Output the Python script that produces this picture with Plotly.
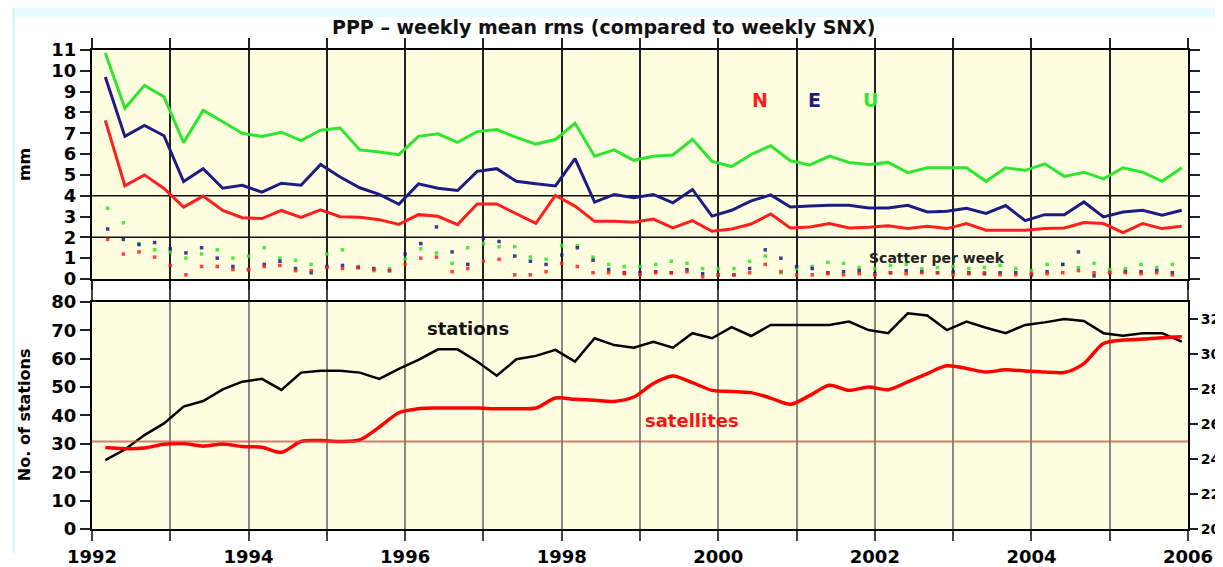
import plotly.graph_objects as go
from plotly.subplots import make_subplots

# quarterly sample positions (decimal years)
quarters = [
    1992.17, 1992.42, 1992.67, 1992.92, 1993.17, 1993.42, 1993.67, 1993.92,
    1994.17, 1994.42, 1994.67, 1994.92, 1995.17, 1995.42, 1995.67, 1995.92,
    1996.17, 1996.42, 1996.67, 1996.92, 1997.17, 1997.42, 1997.67, 1997.92,
    1998.17, 1998.42, 1998.67, 1998.92, 1999.17, 1999.42, 1999.67, 1999.92,
    2000.17, 2000.42, 2000.67, 2000.92, 2001.17, 2001.42, 2001.67, 2001.92,
    2002.17, 2002.42, 2002.67, 2002.92, 2003.17, 2003.42, 2003.67, 2003.92,
    2004.17, 2004.42, 2004.67, 2004.92, 2005.17, 2005.42, 2005.67, 2005.92,
]

# weekly mean rms (mm)
rms_n = [7.62, 4.48, 5.0, 4.35, 3.45, 3.98, 3.29, 2.94, 2.9, 3.29,
         2.96, 3.32, 2.99, 2.96, 2.85, 2.62, 3.09, 3.01, 2.61, 3.6,
         3.6, 3.12, 2.67, 4.01, 3.5, 2.77, 2.77, 2.72, 2.88, 2.45,
         2.8, 2.29, 2.4, 2.64, 3.12, 2.45, 2.5, 2.66, 2.45, 2.48,
         2.56, 2.42, 2.53, 2.42, 2.66, 2.34, 2.34, 2.34, 2.42, 2.45,
         2.71, 2.66, 2.23, 2.66, 2.42, 2.53]
rms_e = [9.7, 6.85, 7.38, 6.88, 4.68, 5.3, 4.36, 4.5, 4.17, 4.6,
         4.5, 5.5, 4.9, 4.38, 4.06, 3.59, 4.57, 4.36, 4.25, 5.17,
         5.3, 4.69, 4.57, 4.47, 5.78, 3.69, 4.06, 3.9, 4.06, 3.66,
         4.3, 3.02, 3.3, 3.75, 4.04, 3.46, 3.5, 3.54, 3.54, 3.41,
         3.41, 3.54, 3.22, 3.25, 3.4, 3.15, 3.53, 2.8, 3.09, 3.09,
         3.7, 2.98, 3.22, 3.3, 3.06, 3.3]
rms_u = [10.85, 8.2, 9.3, 8.75, 6.55, 8.1, 7.55, 7.0, 6.85, 7.05,
         6.65, 7.15, 7.25, 6.2, 6.1, 5.97, 6.85, 6.97, 6.56, 7.08,
         7.18, 6.8, 6.48, 6.7, 7.48, 5.9, 6.2, 5.7, 5.9, 5.96,
         6.71, 5.65, 5.4, 5.98, 6.4, 5.68, 5.48, 5.9, 5.6, 5.5,
         5.6, 5.11, 5.34, 5.34, 5.34, 4.69, 5.34, 5.22, 5.53, 4.93,
         5.13, 4.81, 5.34, 5.13, 4.69, 5.34]

# scatter per week (mm)
scatter_x = [
    1992.2, 1992.4, 1992.6, 1992.8, 1993.0, 1993.2, 1993.4, 1993.6, 1993.8,
    1994.0, 1994.2, 1994.4, 1994.6, 1994.8, 1995.0, 1995.2, 1995.4, 1995.6,
    1995.8, 1996.0, 1996.2, 1996.4, 1996.6, 1996.8, 1997.0, 1997.2, 1997.4,
    1997.6, 1997.8, 1998.0, 1998.2, 1998.4, 1998.6, 1998.8, 1999.0, 1999.2,
    1999.4, 1999.6, 1999.8, 2000.0, 2000.2, 2000.4, 2000.6, 2000.8, 2001.0,
    2001.2, 2001.4, 2001.6, 2001.8, 2002.0, 2002.2, 2002.4, 2002.6, 2002.8,
    2003.0, 2003.2, 2003.4, 2003.6, 2003.8, 2004.0, 2004.2, 2004.4, 2004.6,
    2004.8, 2005.0, 2005.2, 2005.4, 2005.6, 2005.8,
]
scat_n = [1.9, 1.2, 1.3, 1.05, 0.65, 0.2, 0.6, 0.6, 0.45, 0.45,
          0.6, 0.65, 0.4, 0.4, 0.55, 0.5, 0.55, 0.45, 0.4, 0.7,
          1.0, 1.05, 0.35, 0.5, 0.85, 0.95, 0.2, 0.2, 0.35, 0.75,
          0.6, 0.3, 0.3, 0.25, 0.2, 0.3, 0.3, 0.35, 0.1, 0.2,
          0.2, 0.3, 0.7, 0.35, 0.2, 0.2, 0.25, 0.2, 0.25, 0.2,
          0.3, 0.25, 0.3, 0.3, 0.2, 0.25, 0.3, 0.2, 0.2, 0.25,
          0.25, 0.3, 0.4, 0.3, 0.3, 0.3, 0.25, 0.3, 0.2]
scat_e = [2.4, 1.9, 1.65, 1.75, 1.45, 1.25, 1.5, 1.0, 0.6, 0.45,
          0.7, 0.85, 0.5, 0.3, 0.6, 0.65, 0.55, 0.5, 0.4, 1.2,
          1.7, 2.5, 1.3, 0.7, 1.95, 1.8, 1.1, 0.85, 0.7, 1.15,
          1.5, 0.9, 0.45, 0.3, 0.3, 0.35, 0.3, 0.45, 0.25, 0.2,
          0.2, 0.5, 1.4, 1.0, 0.6, 0.5, 0.3, 0.35, 0.4, 0.25,
          0.3, 0.4, 0.35, 0.3, 0.35, 0.3, 0.25, 0.3, 0.3, 0.2,
          0.35, 0.7, 1.3, 0.15, 0.3, 0.35, 0.35, 0.4, 0.3]
scat_u = [3.4, 2.7, 1.7, 1.4, 1.3, 1.0, 1.2, 1.4, 1.0, 1.1,
          1.5, 1.0, 0.9, 0.7, 1.2, 1.4, 0.6, 0.4, 0.5, 0.95,
          1.45, 1.25, 0.75, 1.5, 1.7, 1.55, 1.55, 1.05, 0.95, 1.6,
          1.6, 1.05, 0.7, 0.6, 0.6, 0.7, 0.85, 0.75, 0.5, 0.5,
          0.5, 0.85, 1.1, 0.3, 0.5, 0.6, 0.8, 0.75, 0.55, 0.5,
          0.65, 0.7, 0.5, 0.55, 0.6, 0.5, 0.55, 0.65, 0.5, 0.4,
          0.7, 0.7, 0.55, 0.75, 0.45, 0.5, 0.7, 0.55, 0.7]

# network size
stations = [24.3, 28.0, 33.1, 37.2, 43.1, 45.1, 49.2, 51.9, 52.9, 49.0,
            55.1, 55.8, 55.8, 55.1, 52.9, 56.4, 59.6, 63.3, 63.3, 59.0,
            54.0, 59.8, 61.0, 63.1, 59.0, 67.2, 64.8, 63.9, 66.0, 63.9,
            69.0, 67.2, 71.1, 68.0, 71.9, 71.9, 71.9, 71.9, 73.1, 70.1,
            69.0, 76.0, 75.2, 70.1, 73.1, 70.9, 69.0, 71.9, 72.8, 74.0,
            73.3, 69.0, 68.1, 69.0, 69.0, 66.0]
satellites = [24.65, 24.59, 24.63, 24.84, 24.88, 24.73, 24.86, 24.71, 24.67, 24.38,
              25.0, 25.05, 25.0, 25.09, 25.82, 26.64, 26.87, 26.91, 26.91, 26.91,
              26.87, 26.87, 26.91, 27.48, 27.41, 27.35, 27.29, 27.54, 28.31, 28.74,
              28.36, 27.92, 27.86, 27.79, 27.48, 27.12, 27.63, 28.21, 27.92, 28.11,
              27.96, 28.4, 28.88, 29.32, 29.17, 28.97, 29.09, 29.03, 28.97, 28.94,
              29.45, 30.6, 30.79, 30.85, 30.93, 30.98]
sat_ref = 25

years = list(range(1992, 2007))
year_labels = [str(y) if y % 2 == 0 else "" for y in years]

RED = "#ff1e1e"
BLUE = "#1c1c82"
GREEN = "#2de62d"
BG = "#fefde0"
FONT = "DejaVu Sans"

fig = make_subplots(rows=2, cols=1, specs=[[{}], [{"secondary_y": True}]])

# scatter per week dots
for vals, col in [(scat_u, GREEN), (scat_e, BLUE), (scat_n, RED)]:
    fig.add_trace(go.Scatter(x=scatter_x, y=vals, mode="markers",
                             marker=dict(color=col, size=3.5, symbol="square", opacity=0.85),
                             showlegend=False), row=1, col=1)

# weekly mean rms
for vals, col in [(rms_u, GREEN), (rms_e, BLUE), (rms_n, RED)]:
    fig.add_trace(go.Scatter(x=quarters, y=vals, mode="lines",
                             line=dict(color=col, width=3),
                             showlegend=False), row=1, col=1)

fig.add_trace(go.Scatter(x=quarters, y=stations, mode="lines",
                         line=dict(color="black", width=2.5),
                         showlegend=False), row=2, col=1, secondary_y=False)
fig.add_trace(go.Scatter(x=quarters, y=satellites, mode="lines",
                         line=dict(color="#ff0000", width=3.5, shape="spline", smoothing=0.8),
                         showlegend=False), row=2, col=1, secondary_y=True)

tick_font = dict(family=FONT, size=18, color="black", weight="bold")
common = dict(automargin=False, zeroline=False)

# the page body adds 8px around the figure, so the figure is 8px smaller each way
fig.update_layout(
    width=1215, height=559,
    margin=dict(l=84, r=35, t=42, b=38, autoexpand=False),
    paper_bgcolor="white",
    plot_bgcolor=BG,
    showlegend=False,
    xaxis=dict(domain=[0, 1], range=[1992, 2006], tickvals=years, showticklabels=False,
               ticks="outside", ticklen=10, tickwidth=2, tickcolor="#222",
               showline=True, linecolor="black", linewidth=2, mirror="ticks",
               showgrid=True, gridcolor="#222", gridwidth=2, **common),
    yaxis=dict(domain=[0.522, 1], range=[0, 11], dtick=1, tickfont=tick_font,
               ticks="outside", ticklen=10, tickwidth=2, tickcolor="#222",
               showline=True, linecolor="black", linewidth=2, mirror="ticks",
               showgrid=False, **common),
    xaxis2=dict(domain=[0, 1], range=[1992, 2006], tickvals=years, ticktext=year_labels,
                tickfont=tick_font,
                ticks="outside", ticklen=10, tickwidth=2, tickcolor="#444",
                showline=True, linecolor="black", linewidth=2, mirror="ticks",
                showgrid=True, gridcolor="#8a8a80", gridwidth=1.5, **common),
    yaxis2=dict(domain=[0, 0.474], range=[0, 80], dtick=10, tickfont=tick_font,
                ticks="outside", ticklen=10, tickwidth=2, tickcolor="#222",
                showline=True, linecolor="black", linewidth=2,
                showgrid=False, **common),
    yaxis3=dict(range=[20, 32.97], tickvals=[20, 22, 24, 26, 28, 30, 32],
                tickfont=dict(family=FONT, size=14, color="black", weight="bold"),
                ticks="outside", ticklen=8, tickwidth=2, tickcolor="#222",
                showline=True, linecolor="black", linewidth=2,
                showgrid=False, **common),
)

# horizontal reference lines
for yv in [2, 4]:
    fig.add_shape(type="line", xref="x", yref="y", x0=1992, x1=2006, y0=yv, y1=yv,
                  line=dict(color="#111", width=1.5), layer="below")
fig.add_shape(type="line", xref="x2", yref="y3", x0=1992, x1=2006, y0=sat_ref, y1=sat_ref,
              line=dict(color="rgba(200,80,70,0.75)", width=2))

# light cyan tint along the picture border
fig.add_shape(type="rect", xref="paper", yref="paper", x0=-0.0721, x1=1.04, y0=1.069, y1=1.1,
              fillcolor="#e6fbfd", line=dict(width=0), layer="below")
fig.add_shape(type="line", xref="paper", yref="paper", x0=-0.0716, x1=-0.0716, y0=-0.05, y1=1.1,
              line=dict(color="#c8f6fa", width=2))

annotations = [
    dict(text="PPP \u2013 weekly mean rms (compared to weekly SNX)", xref="paper", yref="paper",
         x=0.467, y=1.048, font=dict(family=FONT, size=19, weight="bold", color="#111")),
    dict(text="mm", xref="paper", yref="paper", x=-0.061, y=0.76, textangle=-90,
         font=dict(family=FONT, size=16, weight="bold", color="black")),
    dict(text="No. of stations", xref="paper", yref="paper", x=-0.061, y=0.238, textangle=-90,
         font=dict(family=FONT, size=16, weight="bold", color="black")),
    dict(text="N", xref="x", yref="y", x=2000.53, y=8.6,
         font=dict(family=FONT, size=19, weight="bold", color=RED)),
    dict(text="E", xref="x", yref="y", x=2001.23, y=8.6,
         font=dict(family=FONT, size=19, weight="bold", color=BLUE)),
    dict(text="U", xref="x", yref="y", x=2001.94, y=8.6,
         font=dict(family=FONT, size=19, weight="bold", color=GREEN)),
    dict(text="Scatter per week", xref="x", yref="y", x=2002.8, y=1.0,
         font=dict(family=FONT, size=14, weight="bold", color="#222")),
    dict(text="stations", xref="x2", yref="y2", x=1996.8, y=70.5,
         font=dict(family=FONT, size=18, weight="bold", color="#111")),
    dict(text="satellites", xref="x2", yref="y2", x=1999.66, y=38.4,
         font=dict(family=FONT, size=18, weight="bold", color="#ff1010")),
]
for a in annotations:
    fig.add_annotation(showarrow=False, xanchor="center", yanchor="middle", **a)

fig.write_html("out.html")
